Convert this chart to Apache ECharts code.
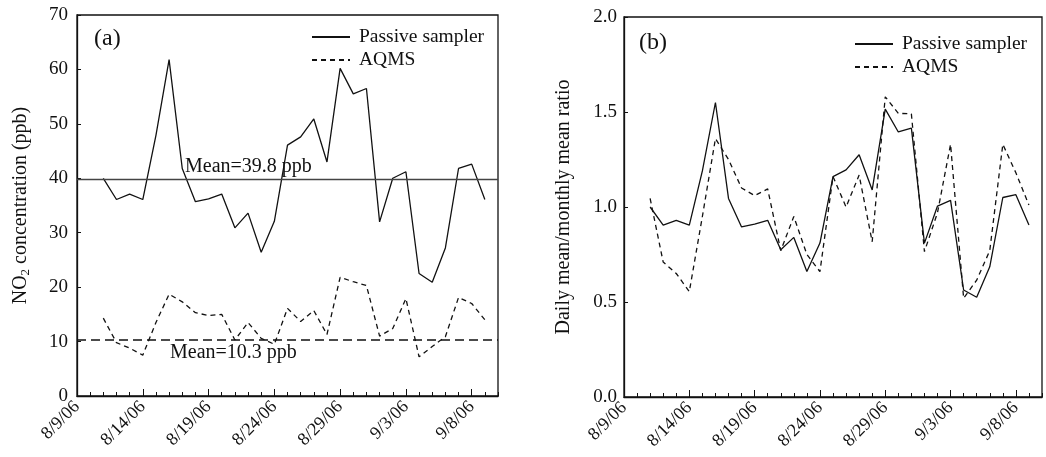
<!DOCTYPE html>
<html>
<head>
<meta charset="utf-8">
<script src="https://cdn.jsdelivr.net/npm/echarts@6/dist/echarts.min.js"></script>
<style>
  html, body { margin: 0; padding: 0; background: #fff; }
  #chart { width: 1046px; height: 457px; }
</style>
</head>
<body>
<div id="chart"></div>
<script>
// dates on the x axis, one per day (8/9/06 .. 9/10/06)
var days = [
  "8/9/06", "8/10/06", "8/11/06", "8/12/06", "8/13/06", "8/14/06", "8/15/06", "8/16/06",
  "8/17/06", "8/18/06", "8/19/06", "8/20/06", "8/21/06", "8/22/06", "8/23/06", "8/24/06",
  "8/25/06", "8/26/06", "8/27/06", "8/28/06", "8/29/06", "8/30/06", "8/31/06", "9/1/06",
  "9/2/06", "9/3/06", "9/4/06", "9/5/06", "9/6/06", "9/7/06", "9/8/06", "9/9/06", "9/10/06"
];

// (a) NO2 concentration, ppb
var passiveConc = [null, null, 40.0, 36.1, 37.1, 36.1, 47.9, 61.8, 41.8, 35.7, 36.2, 37.1, 30.9, 33.6, 26.4, 32.1,
  46.1, 47.6, 50.9, 43.0, 60.2, 55.5, 56.5, 32.0, 40.0, 41.2, 22.5, 20.9, 27.2, 41.8, 42.6, 36.1, null];
var aqmsConc = [null, null, 14.3, 9.8, 8.8, 7.5, 13.5, 18.7, 17.3, 15.3, 14.8, 15.0, 10.3, 13.5, 10.6, 9.5,
  16.1, 13.7, 15.7, 11.3, 21.8, 21.0, 20.3, 11.0, 12.4, 17.9, 7.2, 9.1, 10.9, 18.1, 17.0, 14.0, null];
var passiveMean = 39.8;
var aqmsMean = 10.3;

// (b) daily mean / monthly mean ratio
var passiveRatio = [null, null, 1.00, 0.905, 0.93, 0.905, 1.19, 1.55, 1.045, 0.895, 0.91, 0.93, 0.775, 0.84, 0.66, 0.81,
  1.16, 1.195, 1.275, 1.09, 1.515, 1.395, 1.415, 0.81, 1.005, 1.035, 0.563, 0.525, 0.685, 1.05, 1.065, 0.905, null];
var aqmsRatio = [null, null, 1.045, 0.71, 0.65, 0.555, 0.95, 1.36, 1.25, 1.10, 1.06, 1.095, 0.77, 0.95, 0.75, 0.66,
  1.16, 1.0, 1.168, 0.817, 1.58, 1.493, 1.49, 0.765, 0.97, 1.33, 0.52, 0.615, 0.77, 1.33, 1.18, 1.01, null];

var concTicks = { min: 0, max: 70, interval: 10 };
var ratioTicks = { min: 0, max: 2, interval: 0.5 };

var serif = "Liberation Serif";
var black = "#111";

var chart = echarts.init(document.getElementById("chart"));

function xAxisFor(gridIndex) {
  return {
    type: "category",
    gridIndex: gridIndex,
    data: days,
    boundaryGap: false,
    axisLine: { lineStyle: { color: black, width: 1.3 } },
    axisTick: { inside: true, interval: 0, length: 4, lineStyle: { color: black } },
    axisLabel: {
      interval: 4,
      rotate: 45,
      margin: 8,
      color: black,
      fontFamily: serif,
      fontSize: 18,
    },
    splitLine: { show: false },
  };
}

// longer ticks every 5 days
function majorTickAxis(gridIndex) {
  return {
    type: "category",
    gridIndex: gridIndex,
    data: days,
    boundaryGap: false,
    position: "bottom",
    axisLine: { show: false },
    axisTick: { inside: true, interval: 4, length: 7, lineStyle: { color: black } },
    axisLabel: { show: false },
    splitLine: { show: false },
  };
}

function lineSeries(name, data, dashed, xi, yi) {
  return {
    name: name,
    type: "line",
    xAxisIndex: xi,
    yAxisIndex: yi,
    data: data,
    symbol: "none",
    silent: true,
    lineStyle: {
      color: black,
      width: 1.3,
      type: dashed ? [5, 4] : "solid",
    },
    itemStyle: { color: black },
  };
}

var legendBase = {
  orient: "vertical",
  data: ["Passive sampler", "AQMS"],
  itemWidth: 38,
  itemHeight: 14,
  itemGap: 3,
  selectedMode: false,
  itemStyle: { color: "transparent", borderWidth: 0, opacity: 0 },
  textStyle: { fontFamily: serif, fontSize: 19.5, color: black, padding: [0, 0, 0, 4] },
};

var passiveA = lineSeries("Passive sampler", passiveConc, false, 0, 0);
passiveA.markLine = {
  symbol: "none",
  silent: true,
  lineStyle: { color: "#444", width: 1.3, type: "solid" },
  label: {
    position: "insideStartTop",
    distance: [108, 3],
    formatter: "Mean=" + passiveMean + " ppb",
    fontFamily: serif,
    fontSize: 20,
    color: black,
  },
  data: [{ yAxis: passiveMean }],
};
var aqmsA = lineSeries("AQMS", aqmsConc, true, 0, 0);
aqmsA.markLine = {
  symbol: "none",
  silent: true,
  lineStyle: { color: black, width: 1.5, type: [9, 5] },
  label: {
    position: "insideStartBottom",
    distance: [93, 3],
    formatter: "Mean=" + aqmsMean + " ppb",
    fontFamily: serif,
    fontSize: 20,
    color: black,
  },
  data: [{ yAxis: aqmsMean }],
};

var option = {
  animation: false,
  backgroundColor: "#fff",
  title: [
    { text: "(a)", left: 89, top: 22, textStyle: { fontFamily: serif, fontSize: 24, fontWeight: "normal", color: black } },
    { text: "(b)", left: 634, top: 26, textStyle: { fontFamily: serif, fontSize: 24, fontWeight: "normal", color: black } },
  ],
  legend: [
    Object.assign({}, legendBase, { left: 306, top: 22 }),
    Object.assign({}, legendBase, { left: 849, top: 29 }),
  ],
  grid: [
    { left: 77, right: 548, top: 15, bottom: 61, show: true, borderColor: black, borderWidth: 1.3 },
    { left: 624, right: 4, top: 17, bottom: 60, show: true, borderColor: black, borderWidth: 1.3 },
  ],
  xAxis: [xAxisFor(0), xAxisFor(1), majorTickAxis(0), majorTickAxis(1)],
  yAxis: [
    {
      type: "value",
      gridIndex: 0,
      min: concTicks.min,
      max: concTicks.max,
      interval: concTicks.interval,
      name: "NO{sub|2} concentration (ppb)",
      nameLocation: "middle",
      nameGap: 45,
      nameTextStyle: {
        fontFamily: serif,
        fontSize: 20,
        color: black,
        rich: {
          sub: { fontFamily: serif, fontSize: 13, color: black, verticalAlign: "bottom", padding: [9, 0, 0, 0] },
        },
      },
      axisLine: { show: true, lineStyle: { color: black, width: 1.3 } },
      axisTick: { show: true, inside: true, length: 4, lineStyle: { color: black } },
      axisLabel: { color: black, fontFamily: serif, fontSize: 19, margin: 9 },
      splitLine: { show: false },
    },
    {
      type: "value",
      gridIndex: 1,
      min: ratioTicks.min,
      max: ratioTicks.max,
      interval: ratioTicks.interval,
      name: "Daily mean/monthly mean ratio",
      nameLocation: "middle",
      nameGap: 50,
      nameTextStyle: { fontFamily: serif, fontSize: 20, color: black },
      axisLine: { show: true, lineStyle: { color: black, width: 1.3 } },
      axisTick: { show: true, inside: true, length: 4, lineStyle: { color: black } },
      axisLabel: {
        color: black,
        fontFamily: serif,
        fontSize: 19,
        margin: 7,
        formatter: function (v) { return v.toFixed(1); },
      },
      splitLine: { show: false },
    },
  ],
  series: [
    passiveA,
    aqmsA,
    lineSeries("Passive sampler", passiveRatio, false, 1, 1),
    lineSeries("AQMS", aqmsRatio, true, 1, 1),
  ],
};

chart.setOption(option);
</script>
</body>
</html>
